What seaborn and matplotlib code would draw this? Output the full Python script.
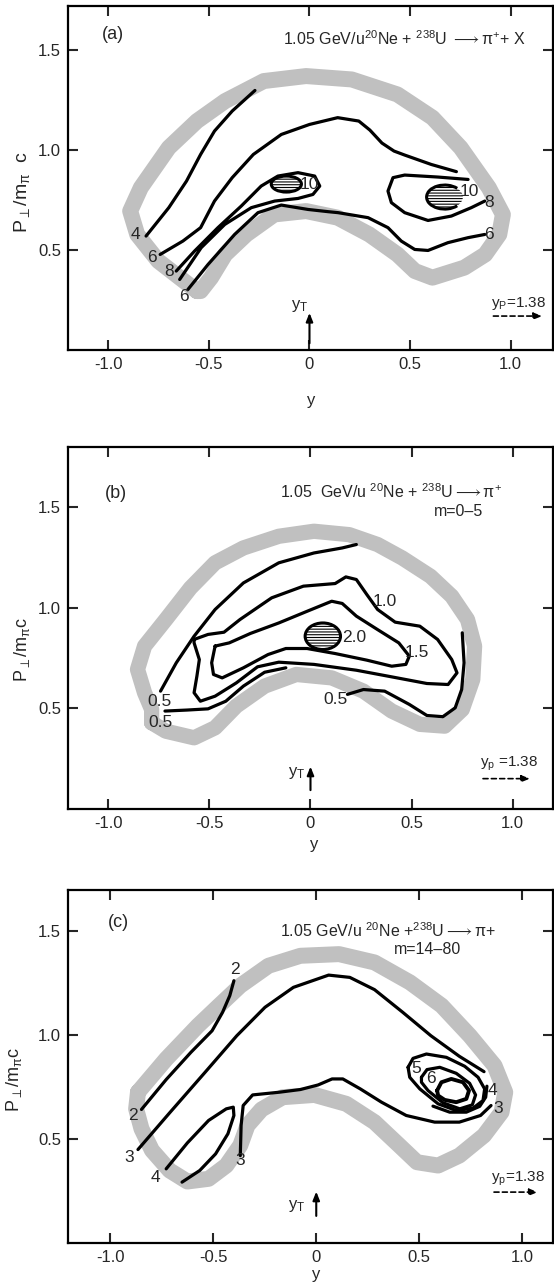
import numpy as np
import pandas as pd
import matplotlib
matplotlib.use("Agg")
import matplotlib.pyplot as plt
import seaborn as sns
from matplotlib.patches import Ellipse, Arc

# ---------------- data ----------------
# Panel (a)
A_band_x = [-0.559, -0.751, -0.856, -0.891, -0.838, -0.699, -0.559, -0.419, -0.227, -0.017, 0.21, 0.437, 0.611, 0.751,
            0.891, 0.961, 0.943, 0.873, 0.769, 0.611, 0.524, 0.437, 0.297, 0.14, -0.017, -0.175, -0.314, -0.419,
            -0.489, -0.541, -0.559]
A_band_y = [0.295, 0.445, 0.578, 0.695, 0.812, 1.012, 1.145, 1.245, 1.345, 1.37, 1.353, 1.278, 1.162, 1.012,
            0.812, 0.678, 0.578, 0.478, 0.412, 0.362, 0.395, 0.478, 0.578, 0.662, 0.695, 0.678, 0.578, 0.478,
            0.362, 0.295, 0.295]
A_c4_x = [-0.812, -0.699, -0.611, -0.541, -0.472, -0.384, -0.271]
A_c4_y = [0.57, 0.712, 0.845, 0.978, 1.095, 1.195, 1.298]
A_c6u_x = [-0.742, -0.629, -0.541, -0.472, -0.384, -0.279, -0.14, 0.0, 0.14, 0.245, 0.30, 0.36, 0.42, 0.473, 0.605, 0.73]
A_c6u_y = [0.478, 0.545, 0.612, 0.745, 0.862, 0.978, 1.078, 1.128, 1.162, 1.145, 1.10, 1.035, 0.995, 0.975, 0.928, 0.892]
A_c8_x = [-0.662, -0.571, -0.455, -0.339, -0.24, -0.157, -0.057, 0.026, 0.051, 0.017, -0.057, -0.173, -0.289, -0.421,
          -0.538, -0.645]
A_c8_y = [0.395, 0.495, 0.612, 0.72, 0.82, 0.87, 0.887, 0.87, 0.82, 0.778, 0.758, 0.745, 0.712, 0.628, 0.512, 0.353]
A_c6l_x = [-0.604, -0.504, -0.372, -0.256, -0.14, -0.007, 0.092, 0.142, 0.291, 0.39, 0.456, 0.523, 0.589, 0.688, 0.788,
           0.871]
A_c6l_y = [0.303, 0.428, 0.578, 0.687, 0.725, 0.703, 0.692, 0.687, 0.662, 0.612, 0.545, 0.503, 0.498, 0.537, 0.562,
           0.578]
A_c8r_x = [0.788, 0.639, 0.473, 0.415, 0.39, 0.407, 0.473, 0.589, 0.705, 0.804, 0.871]
A_c8r_y = [0.853, 0.865, 0.875, 0.862, 0.795, 0.737, 0.687, 0.648, 0.67, 0.712, 0.745]
A_peaks = [(-0.115, 0.83, 0.15, 0.08, True), (0.672, 0.765, 0.18, 0.12, False)]  # x, y, width, height, closed outline
A_labels = [("4", -0.865, 0.578), ("6", -0.783, 0.462), ("8", -0.699, 0.395), ("6", -0.625, 0.27),
            ("10", 0.0, 0.828), ("10", 0.795, 0.795), ("8", 0.891, 0.737), ("6", 0.891, 0.578)]

# Panel (b)
B_band_x = [-0.786, -0.716, -0.576, -0.472, -0.367, -0.227, -0.07, 0.105, 0.262, 0.402, 0.541, 0.664, 0.751, 0.803,
            0.812, 0.777, 0.699, 0.594, 0.454, 0.332, 0.192, 0.017, -0.157, -0.332, -0.472, -0.594, -0.716, -0.821,
            -0.856, -0.821, -0.786, -0.786]
B_band_y = [0.429, 0.387, 0.354, 0.404, 0.512, 0.611, 0.669, 0.652, 0.586, 0.487, 0.421, 0.412, 0.495, 0.644,
            0.81, 0.942, 1.058, 1.157, 1.248, 1.315, 1.364, 1.381, 1.356, 1.298, 1.224, 1.099, 0.942, 0.81,
            0.694, 0.578, 0.495, 0.429]
B_c05u_x = [-0.742, -0.664, -0.576, -0.472, -0.332, -0.157, 0.017, 0.157, 0.227]
B_c05u_y = [0.586, 0.727, 0.859, 0.992, 1.124, 1.224, 1.273, 1.298, 1.315]
B_c05l_x = [-0.72, -0.611, -0.507, -0.419, -0.332, -0.227, -0.122]
B_c05l_y = [0.487, 0.492, 0.498, 0.536, 0.611, 0.68, 0.702]
B_c05r_x = [0.183, 0.262, 0.367, 0.489, 0.576, 0.655, 0.716, 0.748, 0.76, 0.751]
B_c05r_y = [0.57, 0.594, 0.586, 0.52, 0.465, 0.459, 0.503, 0.594, 0.727, 0.876]
B_c10_x = [-0.576, -0.507, -0.428, -0.349, -0.192, -0.035, 0.122, 0.175, 0.227, 0.279, 0.332, 0.419, 0.541, 0.629,
           0.699, 0.725, 0.681, 0.576, 0.402, 0.227, 0.017, -0.157, -0.262, -0.367, -0.472, -0.545, -0.576, -0.562,
           -0.55, -0.576, -0.576]
B_c10_y = [0.843, 0.868, 0.879, 0.942, 1.05, 1.108, 1.121, 1.154, 1.141, 1.066, 0.992, 0.929, 0.909, 0.843,
           0.743, 0.677, 0.619, 0.624, 0.657, 0.69, 0.719, 0.73, 0.707, 0.627, 0.561, 0.536, 0.578, 0.661,
           0.743, 0.826, 0.843]
B_c15_x = [-0.472, -0.402, -0.297, -0.157, -0.017, 0.105, 0.157, 0.227, 0.332, 0.437, 0.489, 0.472, 0.402, 0.279,
           0.122, -0.017, -0.122, -0.21, -0.332, -0.437, -0.48, -0.489, -0.472]
B_c15_y = [0.81, 0.826, 0.873, 0.925, 0.983, 1.033, 1.022, 0.959, 0.892, 0.826, 0.76, 0.719, 0.71, 0.74,
           0.773, 0.798, 0.798, 0.768, 0.702, 0.652, 0.669, 0.727, 0.81]
B_peaks = [(0.061, 0.859, 0.175, 0.132, True)]
B_labels = [("0.5", -0.748, 0.536), ("0.5", -0.742, 0.429), ("0.5", 0.122, 0.545), ("1.0", 0.367, 1.033),
            ("1.5", 0.524, 0.776), ("2.0", 0.218, 0.851)]

# Panel (c)
C_band_x = [-0.866, -0.729, -0.575, -0.472, -0.369, -0.232, -0.077, 0.111, 0.283, 0.455, 0.609, 0.746, 0.866, 0.918,
            0.9, 0.815, 0.695, 0.592, 0.489, 0.403, 0.283, 0.146, -0.009, -0.163, -0.266, -0.334, -0.369, -0.437,
            -0.523, -0.626, -0.712, -0.798, -0.849, -0.875, -0.866]
C_band_y = [0.726, 0.886, 1.046, 1.143, 1.239, 1.335, 1.383, 1.391, 1.351, 1.255, 1.143, 0.998, 0.854, 0.726,
            0.63, 0.518, 0.421, 0.373, 0.389, 0.47, 0.582, 0.67, 0.713, 0.702, 0.643, 0.566, 0.47, 0.373,
            0.309, 0.296, 0.349, 0.446, 0.55, 0.646, 0.726]
C_c2_x = [-0.849, -0.729, -0.609, -0.506, -0.455, -0.42, -0.4]
C_c2_y = [0.643, 0.787, 0.918, 1.022, 1.111, 1.191, 1.263]
C_c3u_x = [-0.866, -0.712, -0.54, -0.386, -0.249, -0.111, 0.06, 0.163, 0.283, 0.42, 0.557, 0.695, 0.815]
C_c3u_y = [0.45, 0.627, 0.822, 0.998, 1.135, 1.231, 1.29, 1.279, 1.22, 1.111, 0.998, 0.899, 0.825]
C_c3l_x = [-0.369, -0.365, -0.355, -0.309, -0.18, -0.077, 0.009, 0.077, 0.129, 0.214, 0.317, 0.437, 0.575, 0.695,
           0.798, 0.849]
C_c3l_y = [0.421, 0.566, 0.662, 0.713, 0.726, 0.739, 0.761, 0.79, 0.79, 0.742, 0.678, 0.614, 0.582, 0.582,
           0.614, 0.662]
C_c4_x = [-0.729, -0.626, -0.523, -0.437, -0.403, -0.4, -0.429, -0.489, -0.566, -0.652]
C_c4_y = [0.357, 0.482, 0.59, 0.646, 0.654, 0.614, 0.526, 0.429, 0.349, 0.293]
C_c4r_x = [0.829, 0.823, 0.794, 0.729, 0.648, 0.567]
C_c4r_y = [0.755, 0.702, 0.658, 0.63, 0.63, 0.659]
C_c5_x = [0.446, 0.47, 0.535, 0.632, 0.721, 0.786, 0.818, 0.81, 0.761, 0.68, 0.592, 0.503, 0.454, 0.446]
C_c5_y = [0.846, 0.889, 0.91, 0.894, 0.851, 0.798, 0.742, 0.686, 0.649, 0.638, 0.67, 0.742, 0.798, 0.846]
C_c6_x = [0.511, 0.538, 0.6, 0.68, 0.745, 0.774, 0.758, 0.697, 0.616, 0.543, 0.511, 0.511]
C_c6_y = [0.798, 0.835, 0.846, 0.817, 0.769, 0.713, 0.665, 0.646, 0.675, 0.734, 0.774, 0.798]
C_c7_x = [0.587, 0.608, 0.656, 0.713, 0.742, 0.729, 0.68, 0.624, 0.592, 0.587]
C_c7_y = [0.734, 0.774, 0.79, 0.774, 0.734, 0.694, 0.678, 0.689, 0.71, 0.734]
C_labels = [("2", -0.892, 0.614), ("2", -0.395, 1.319), ("3", -0.909, 0.413), ("4", -0.78, 0.317),
            ("3", -0.369, 0.397), ("5", 0.486, 0.838), ("6", 0.556, 0.79), ("4", 0.855, 0.734), ("3", 0.886, 0.646)]

X_TICKS = [-1.0, -0.5, 0.0, 0.5, 1.0]
X_TICKLABELS = ["-1.0", "-0.5", "0", "0.5", "1.0"]
Y_TICKS = [0.5, 1.0, 1.5]
Y_TICKLABELS = ["0.5", "1.0", "1.5"]

# ---------------- style ----------------
sns.set_style("ticks")
plt.rcParams['font.family'] = ['Liberation Sans', 'DejaVu Sans']
plt.rcParams['mathtext.fontset'] = 'custom'
plt.rcParams['mathtext.rm'] = 'Liberation Sans'
plt.rcParams['mathtext.it'] = 'Liberation Sans'
plt.rcParams['mathtext.sf'] = 'Liberation Sans'
plt.rcParams['hatch.linewidth'] = 0.8

fig = plt.figure(figsize=(5.54, 12.87), dpi=100)
L, W = 0.1227, 0.8755
axA = fig.add_axes([L, 0.728, W, 0.2673])
axB = fig.add_axes([L, 0.3714, W, 0.2813])
axC = fig.add_axes([L, 0.0342, W, 0.2743])

BAND_COLOR = '#c0c0c0'
ARROW = r'$\longrightarrow$'


def draw_lines(ax, lines, color, lw, z):
    frames = []
    for i, (xs, ys) in enumerate(lines):
        frames.append(pd.DataFrame({'x': xs, 'y': ys, 'seg': i}))
    df = pd.concat(frames, ignore_index=True)
    sns.lineplot(data=df, x='x', y='y', units='seg', estimator=None, sort=False, color=color,
                 linewidth=lw, ax=ax, legend=False, zorder=z,
                 solid_joinstyle='round', solid_capstyle='round')


def draw_peaks(ax, peaks):
    for (cx, cy, w, h, closed) in peaks:
        e = Ellipse((cx, cy), w, h, facecolor='white', edgecolor='black', hatch='------',
                    linewidth=0 if not closed else 2.2, zorder=4)
        ax.add_patch(e)
        if not closed:
            ax.add_patch(Arc((cx, cy), w, h, theta1=35, theta2=325, color='black', linewidth=2.2, zorder=5))


def style_axes(ax, xlim, ylim, ylabel, ylab_xy, ylab_size):
    ax.set_xlim(*xlim)
    ax.set_ylim(*ylim)
    ax.set_xticks(X_TICKS)
    ax.set_xticklabels(X_TICKLABELS)
    ax.set_yticks(Y_TICKS)
    ax.set_yticklabels(Y_TICKLABELS)
    ax.tick_params(direction='in', length=7, width=1.5, top=True, right=True, labelsize=12, pad=5)
    for s in ax.spines.values():
        s.set_linewidth(1.6)
        s.set_color('black')
    ax.set_ylabel(ylabel, fontsize=ylab_size)
    ax.yaxis.set_label_coords(*ylab_xy)
    ax.set_xlabel('')


def decorate(ax, tag, tag_xy, title_lines, yT_xy, arrow_y, yp_text, yp_xy, yp_arrow):
    ax.text(tag_xy[0], tag_xy[1], tag, fontsize=13, ha='center', va='center')
    for (txt, tx, ty, ha) in title_lines:
        ax.text(tx, ty, txt, fontsize=11.5, ha=ha, va='center')
    ax.annotate('', xy=(0, arrow_y[1]), xytext=(0, arrow_y[0]),
                arrowprops=dict(arrowstyle='-|>,head_length=0.5,head_width=0.2', color='black', lw=1.5))
    ax.text(yT_xy[0], yT_xy[1], r'y$_\mathrm{T}$', fontsize=12, ha='center', va='center')
    ax.text(yp_xy[0], yp_xy[1], yp_text, fontsize=11, ha='left', va='center')
    ax.annotate('', xy=(yp_arrow[1], yp_arrow[2]), xytext=(yp_arrow[0], yp_arrow[2]),
                arrowprops=dict(arrowstyle='-|>,head_length=0.5,head_width=0.2', color='black', lw=1.2,
                                linestyle=(0, (3, 2))))


def put_labels(ax, labels):
    for (t, x, y) in labels:
        ax.text(x, y, t, fontsize=12.5, ha='center', va='center', zorder=6)


LW = 2.3
# ---------------- panel (a) ----------------
draw_lines(axA, [(A_band_x, A_band_y)], BAND_COLOR, 11.5, 1)
draw_lines(axA, [(A_c4_x, A_c4_y), (A_c6u_x, A_c6u_y), (A_c8_x, A_c8_y), (A_c6l_x, A_c6l_y),
                 (A_c8r_x, A_c8r_y)], 'black', LW, 3)
draw_peaks(axA, A_peaks)
put_labels(axA, A_labels)
style_axes(axA, (-1.2, 1.21), (0, 1.72), r'P$_\perp$/m$_\pi$  c', (-0.075, 0.46), 14)
decorate(axA, '(a)', (-0.977, 1.58),
         [(r'1.05 GeV/u$^{20}$Ne + $^{238}$U ' + ARROW + r'π$^{+}$+ X', 1.075, 1.555, 'right')],
         (-0.05, 0.22), (0.02, 0.2), r'y$_\mathrm{P}$=1.38', (0.9, 0.235), (0.9, 1.17, 0.17))
fig.text(311 / 554, 1 - 400 / 1287, 'y', fontsize=12, ha='center', va='center')

# ---------------- panel (b) ----------------
draw_lines(axB, [(B_band_x, B_band_y)], BAND_COLOR, 11, 1)
draw_lines(axB, [(B_c05u_x, B_c05u_y), (B_c05l_x, B_c05l_y), (B_c05r_x, B_c05r_y), (B_c10_x, B_c10_y),
                 (B_c15_x, B_c15_y)], 'black', LW, 3)
draw_peaks(axB, B_peaks)
put_labels(axB, B_labels)
style_axes(axB, (-1.2, 1.2), (0, 1.8), r'P$_\perp$/m$_\pi$c', (-0.075, 0.44), 13)
decorate(axB, '(b)', (-0.961, 1.571),
         [(r'1.05  GeV/u $^{20}$Ne + $^{238}$U' + ARROW + r'π$^{+}$', 0.95, 1.579, 'right'),
          ('m=0–5', 0.734, 1.48, 'center')],
         (-0.07, 0.18), (0.08, 0.225), r'y$_\mathrm{p}$ =1.38', (0.84, 0.225), (0.84, 1.1, 0.151))
fig.text(314 / 554, 1 - 845 / 1287, 'y', fontsize=12, ha='center', va='center')

# ---------------- panel (c) ----------------
draw_lines(axC, [(C_band_x, C_band_y)], BAND_COLOR, 11.5, 1)
draw_lines(axC, [(C_c2_x, C_c2_y), (C_c3u_x, C_c3u_y), (C_c3l_x, C_c3l_y), (C_c4_x, C_c4_y),
                 (C_c4r_x, C_c4r_y), (C_c5_x, C_c5_y), (C_c6_x, C_c6_y)], 'black', LW, 3)
draw_lines(axC, [(C_c7_x, C_c7_y)], 'black', 2.8, 3)
put_labels(axC, C_labels)
style_axes(axC, (-1.206, 1.15), (0, 1.70), r'P$_\perp$/m$_\pi$c', (-0.09, 0.465), 13)
decorate(axC, '(c)', (-0.96, 1.543),
         [(r'1.05 GeV/u $^{20}$Ne +$^{238}$U' + ARROW + r'π+', 0.87, 1.503, 'right'),
          ('m=14–80', 0.54, 1.415, 'center')],
         (-0.094, 0.18), (0.117, 0.261), r'y$_\mathrm{p}$=1.38', (0.85, 0.31), (0.85, 1.09, 0.245))
fig.text(316 / 554, 1 - 1275 / 1287, 'y', fontsize=12, ha='center', va='center')

fig.savefig('out.png', dpi=100)
